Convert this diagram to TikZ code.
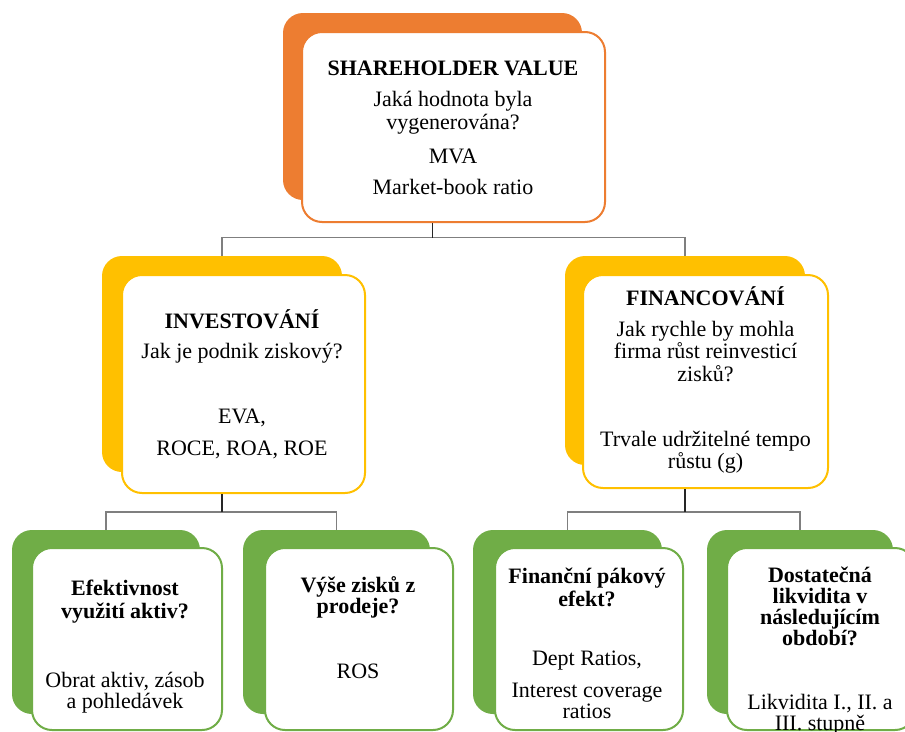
\documentclass[tikz,border=0pt]{standalone}
\usepackage{fontspec}
\setmainfont{Liberation Serif}

\definecolor{accOrange}{HTML}{ED7D31}
\definecolor{accGold}{HTML}{FFC000}
\definecolor{accGreen}{HTML}{70AD47}
\definecolor{stemGray}{HTML}{262626}
\definecolor{barGray}{HTML}{7F7F7F}

% fixed baseline-to-baseline spacing, whatever the accents
\newcommand{\boxfont}{\fontsize{22}{22.5}\selectfont\lineskiplimit=-100pt\relax\lineskip=0pt\relax}
\newcommand{\leaffont}{\fontsize{22}{21}\selectfont\lineskiplimit=-100pt\relax\lineskip=0pt\relax}
\newcommand{\firstlinetop}{\rule{0pt}{21pt}}

\tikzset{
  backbox/.style={draw=none, fill=#1, rounded corners=20pt, inner sep=0pt},
  frontbox/.style={draw=#1, line width=2pt, fill=white, rounded corners=20pt, inner sep=0pt},
  boxtext/.style={inner sep=0pt, align=center, anchor=north, text=black, font=\boxfont},
  leaftext/.style={boxtext, font=\leaffont},
  stem/.style={draw=stemGray, line width=1.3pt},
  bar/.style={draw=barGray, line width=1.5pt},
}

\begin{document}
\begin{tikzpicture}[x=1pt, y=-1pt]
  \useasboundingbox (0,0) rectangle (905,731);
  \fill[white] (0,0) rectangle (905,731);
  \clip (0,0) rectangle (905,731);

  % --- top level: shareholder value ---
  \node[backbox=accOrange, minimum width=299pt, minimum height=187pt] (svB) at (432.5,106.5) {};
  \node[frontbox=accOrange, minimum width=303pt, minimum height=190pt] (svF) at (453.5,127) {};
  \node[boxtext] (svT) at (453,54) {\firstlinetop\textbf{SHAREHOLDER VALUE}\\[9pt]
    Jaká hodnota byla\\ vygenerována?\\[12pt] MVA\\[8pt] Market-book ratio};

  % --- second level ---
  \node[backbox=accGold, minimum width=240pt, minimum height=216pt] (invB) at (222,364) {};
  \node[frontbox=accGold, minimum width=243pt, minimum height=218pt] (invF) at (243.5,384) {};
  \node[boxtext] (invT) at (242,307) {\firstlinetop\textbf{INVESTOVÁNÍ}\\[7.5pt]
    Jak je podnik ziskový?\\[42.5pt] EVA,\\[9.5pt] ROCE, ROA, ROE};

  \node[backbox=accGold, minimum width=240pt, minimum height=209pt] (finB) at (685,360.5) {};
  \node[frontbox=accGold, minimum width=245pt, minimum height=213pt] (finF) at (705.5,381.5) {};
  \node[boxtext] (finT) at (705.5,284) {\firstlinetop\textbf{FINANCOVÁNÍ}\\[8.5pt]
    Jak rychle by mohla\\ firma růst reinvesticí\\ zisků?\\[42.5pt]
    Trvale udržitelné tempo\\ růstu (g)};

  % --- third level ---
  \node[backbox=accGreen, minimum width=188pt, minimum height=184pt] (effB) at (106,622) {};
  \node[frontbox=accGreen, minimum width=190pt, minimum height=182pt] (effF) at (127,639) {};
  \node[leaftext] (effT) at (125,574) {\firstlinetop\textbf{Efektivnost}\\[2pt]
    \textbf{využití aktiv?}\\[48pt] Obrat aktiv, zásob\\ a pohledávek};

  \node[backbox=accGreen, minimum width=187pt, minimum height=184pt] (rosB) at (336.5,622) {};
  \node[frontbox=accGreen, minimum width=188pt, minimum height=182pt] (rosF) at (359,639) {};
  \node[leaftext] (rosT) at (358,571) {\firstlinetop\textbf{Výše zisků z}\\
    \textbf{prodeje?}\\[44pt] ROS};

  \node[backbox=accGreen, minimum width=189pt, minimum height=184pt] (levB) at (567.5,622) {};
  \node[frontbox=accGreen, minimum width=188pt, minimum height=182pt] (levF) at (589,639) {};
  \node[leaftext] (levT) at (587,562) {\firstlinetop\textbf{Finanční pákový}\\[2pt]
    \textbf{efekt?}\\[38pt] Dept Ratios,\\[11pt] Interest coverage\\ ratios};

  \node[backbox=accGreen, minimum width=186pt, minimum height=184pt] (liqB) at (800,622) {};
  \node[frontbox=accGreen, minimum width=188pt, minimum height=182pt] (liqF) at (821,639) {};
  \node[leaftext] (liqT) at (820,561) {\firstlinetop\textbf{Dostatečná}\\ \textbf{likvidita v}\\
    \textbf{následujícím}\\ \textbf{období?}\\[43pt] Likvidita I., II. a\\ III. stupně};

  % --- connectors ---
  \coordinate (svJ) at (432.5,237.5);
  \coordinate (invJ) at (222,512);
  \coordinate (finJ) at (685,512);

  \draw[bar] (invB.north) |- (svJ) -| (finB.north);
  \draw[stem] (svB |- svF.south) -- (svJ);

  \draw[bar] (effB.north) |- (invJ) -| (rosB.north);
  \draw[stem] (invB |- invF.south) -- (invJ);

  \draw[bar] (levB.north) |- (finJ) -| (liqB.north);
  \draw[stem] (finB |- finF.south) -- (finJ);
\end{tikzpicture}
\end{document}
